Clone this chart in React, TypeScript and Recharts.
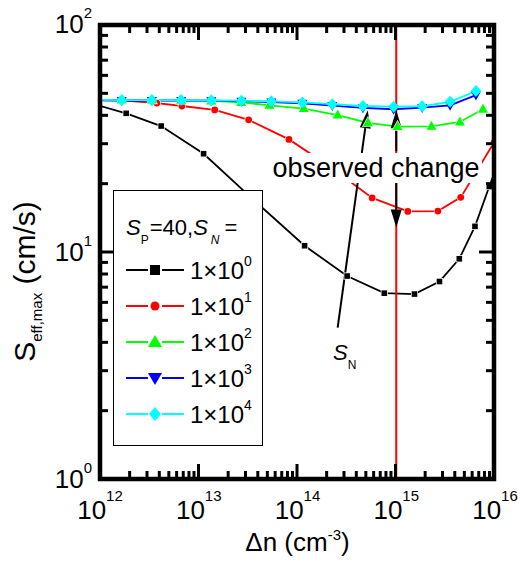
import React from "react";
import { LineChart, Line, XAxis, YAxis, ReferenceLine } from "recharts";

// S_eff,max vs injection level for several S_N (S_P = 40)
const xMajor = [1e12, 1e13, 1e14, 1e15, 1e16];
const yMajor = [1, 10, 100];
const minorSteps = [2, 3, 4, 5, 6, 7, 8, 9];

const xSn1 = [8.1e11, 1.84e12, 4.16e12, 1.12e13, 3.57e13, 1.18e14, 3.18e14, 7.57e14, 1.53e15, 2.74e15, 4.35e15, 6.27e15, 8.75e15, 1.2e16];
const ySn1 = [44.8, 40.5, 35.6, 26.9, 16.9, 10.6, 7.8, 6.56, 6.5, 7.38, 9.29, 12.9, 19.3, 28];

const xSn10 = [8.3e11, 1.66e12, 3.76e12, 6.75e12, 1.45e13, 3.2e13, 8.2e13, 2.16e14, 5.7e14, 1.31e15, 2.64e15, 4.5e15, 9.8e15];
const ySn10 = [46.3, 46.2, 44.9, 43.6, 41.9, 37.9, 31.1, 23.5, 17.2, 15.0, 15.05, 17.3, 30.2];

const xSn100 = [8.3e11, 1.66e12, 3.35e12, 6.64e12, 1.34e13, 2.7e13, 5.2e13, 1.16e14, 2.55e14, 5.17e14, 1.03e15, 2.27e15, 4.41e15, 7.55e15];
const ySn100 = [46.3, 46.3, 46.3, 46.2, 45.9, 45.2, 43.9, 42.5, 39.8, 36.8, 35.4, 35.5, 37.1, 42.2];

const xSnHigh = [8.3e11, 1.66e12, 3.35e12, 6.64e12, 1.34e13, 2.7e13, 5.44e13, 1.12e14, 2.25e14, 4.6e14, 9.4e14, 1.83e15, 3.51e15, 6.41e15];
const ySn1000 = [46.2, 46.1, 46.1, 46.1, 46.0, 45.8, 45.4, 44.8, 43.8, 42.8, 42.2, 42.9, 43.9, 48.7];
const ySn10000 = [46.4, 46.3, 46.3, 46.3, 46.2, 46.0, 45.7, 45.2, 44.4, 43.6, 43.3, 43.5, 45.5, 50.7];

const legendExps = ["0", "1", "2", "3", "4"];

const zip = (xs: number[], ys: number[]) => xs.map((x, i) => ({ x, y: ys[i] }));

const xMinor = xMajor.slice(0, -1).flatMap((m) => minorSteps.map((k) => k * m));
const yMinor = yMajor.slice(0, -1).flatMap((m) => minorSteps.map((k) => k * m));
const xTicks = [...xMajor, ...xMinor];
const yTicks = [...yMajor, ...yMinor];

const FONT = "'Liberation Sans', Arial, sans-serif";
const X_DOMAIN: [number, number] = [1e12, 1e16];
const Y_DOMAIN: [number, number] = [1, 100];

// plot box (chart margins + 1px axis sizes)
const BOX = { left: 100, top: 25, right: 494, bottom: 479 };

const isMajor = (v: number) => Math.abs(Math.log10(v) - Math.round(Math.log10(v))) < 1e-6;
const expOf = (v: number) => String(Math.round(Math.log10(v)));

const MAJ = 15;
const MIN = 8;
const TW = 3;

const BottomLabel = ({ x, y, payload }: any) =>
  isMajor(payload.value) ? (
    <text x={x} y={y + 40} textAnchor="middle" fontSize={26} fontFamily={FONT} fill="#000">
      10
      <tspan dy={-18} fontSize={15}>{expOf(payload.value)}</tspan>
    </text>
  ) : (
    <g />
  );

const LeftLabel = ({ x, y, payload }: any) =>
  isMajor(payload.value) ? (
    <text x={x - 8} y={y + 9} textAnchor="end" fontSize={26} fontFamily={FONT} fill="#000">
      10
      <tspan dy={-15} fontSize={15}>{expOf(payload.value)}</tspan>
    </text>
  ) : (
    <g />
  );

const inRange = (p: any) => p.payload && p.payload.x >= X_DOMAIN[0] && p.payload.x <= X_DOMAIN[1];

const squareDot = (p: any) =>
  inRange(p) ? (
    <rect key={p.index} x={p.cx - 2.8} y={p.cy - 2.8} width={5.6} height={5.6} fill="#000" stroke="#fff" strokeWidth={1.5} paintOrder="stroke" />
  ) : (
    <g key={p.index} />
  );
const circleDot = (p: any) =>
  inRange(p) ? <circle key={p.index} cx={p.cx} cy={p.cy} r={3.4} fill="#ff0000" stroke="#fff" strokeWidth={1.5} paintOrder="stroke" /> : <g key={p.index} />;
const triUpDot = (p: any) =>
  inRange(p) ? (
    <polygon key={p.index} points={`${p.cx},${p.cy - 5.5} ${p.cx - 5},${p.cy + 3.5} ${p.cx + 5},${p.cy + 3.5}`} fill="#00ff00" stroke="#fff" strokeWidth={1.2} paintOrder="stroke" />
  ) : (
    <g key={p.index} />
  );
const triDownDot = (p: any) =>
  inRange(p) ? <polygon key={p.index} points={`${p.cx},${p.cy + 5.5} ${p.cx - 5},${p.cy - 3.5} ${p.cx + 5},${p.cy - 3.5}`} fill="#0000ff" /> : <g key={p.index} />;
const diamondDot = (p: any) =>
  inRange(p) ? <polygon key={p.index} points={`${p.cx},${p.cy - 6} ${p.cx + 5.5},${p.cy} ${p.cx},${p.cy + 6} ${p.cx - 5.5},${p.cy}`} fill="#00ffff" /> : <g key={p.index} />;

const Arrow = (p: any) => {
  const { x1, y1, x2, y2 } = p;
  const dx = x2 - x1;
  const dy = y2 - y1;
  const len = Math.hypot(dx, dy) || 1;
  const ux = dx / len;
  const uy = dy / len;
  const hl = 18;
  const hw = 5.5;
  const bx = x2 - ux * hl;
  const by = y2 - uy * hl;
  return (
    <g>
      <line x1={x1} y1={y1} x2={bx} y2={by} stroke="#000" strokeWidth={2} />
      <polygon points={`${x2},${y2} ${bx - uy * hw},${by + ux * hw} ${bx + uy * hw},${by - ux * hw}`} fill="#000" />
    </g>
  );
};

const XTitle = ({ viewBox }: any) => (
  <text x={viewBox.x + viewBox.width / 2} y={viewBox.y + 72} textAnchor="middle" fontSize={26} fontFamily={FONT} fill="#000">
    Δn (cm
    <tspan dy={-11} fontSize={15}>-3</tspan>
    <tspan dy={11}>)</tspan>
  </text>
);

const YTitle = ({ viewBox }: any) => {
  const cx = viewBox.x - 64;
  const cy = viewBox.y + viewBox.height / 2 + 30;
  return (
    <text x={cx} y={cy} transform={`rotate(-90 ${cx} ${cy})`} textAnchor="middle" fontSize={30} fontFamily={FONT} fill="#000">
      S
      <tspan dy={7} fontSize={15}>eff,max</tspan>
      <tspan dy={-7}> (cm/s)</tspan>
    </text>
  );
};

// tick comb on all four sides of the frame
const logPos = (v: number, d: [number, number], a: number, b: number) =>
  a + ((Math.log10(v) - Math.log10(d[0])) / (Math.log10(d[1]) - Math.log10(d[0]))) * (b - a);

const FrameTicks = () => (
  <svg width={520} height={585} style={{ position: "absolute", left: 0, top: 0, pointerEvents: "none" }}>
    {xTicks.map((v) => {
      const x = logPos(v, X_DOMAIN, BOX.left, BOX.right);
      const l = isMajor(v) ? MAJ : MIN;
      return (
        <g key={`x${v}`}>
          <line x1={x} x2={x} y1={BOX.bottom} y2={BOX.bottom - l} stroke="#000" strokeWidth={TW} />
          <line x1={x} x2={x} y1={BOX.top} y2={BOX.top + l} stroke="#000" strokeWidth={TW} />
        </g>
      );
    })}
    {yTicks.map((v) => {
      const y = logPos(v, Y_DOMAIN, BOX.bottom, BOX.top);
      const l = isMajor(v) ? MAJ : MIN;
      return (
        <g key={`y${v}`}>
          <line x1={BOX.left} x2={BOX.left + l} y1={y} y2={y} stroke="#000" strokeWidth={TW} />
          <line x1={BOX.right} x2={BOX.right - l} y1={y} y2={y} stroke="#000" strokeWidth={TW} />
        </g>
      );
    })}
    <rect x={BOX.left} y={BOX.top} width={BOX.right - BOX.left} height={BOX.bottom - BOX.top} fill="none" stroke="#000" strokeWidth={4.5} />
  </svg>
);

const legendRows = [
  { color: "#000", marker: "square" },
  { color: "#ff0000", marker: "circle" },
  { color: "#00ff00", marker: "up" },
  { color: "#0000ff", marker: "down" },
  { color: "#00ffff", marker: "diamond" },
];

const LegendMarker = ({ kind, color, cx, cy }: any) => {
  if (kind === "square") return <rect x={cx - 5} y={cy - 5} width={10} height={10} fill={color} />;
  if (kind === "circle") return <circle cx={cx} cy={cy} r={4.5} fill={color} />;
  if (kind === "up") return <polygon points={`${cx},${cy - 7} ${cx - 7},${cy + 5} ${cx + 7},${cy + 5}`} fill={color} />;
  if (kind === "down") return <polygon points={`${cx},${cy + 7} ${cx - 7},${cy - 5} ${cx + 7},${cy - 5}`} fill={color} />;
  return <polygon points={`${cx},${cy - 7} ${cx + 6},${cy} ${cx},${cy + 7} ${cx - 6},${cy}`} fill={color} />;
};

const LegendBox = () => (
  <div style={{ position: "absolute", left: 113, top: 190, width: 148, height: 254, border: "1.5px solid #000", background: "#fff" }}>
    <svg width={148} height={254} style={{ display: "block" }}>
      <text x={12} y={44} fontSize={22} fontFamily={FONT} fill="#000">
        <tspan fontStyle="italic">S</tspan>
        <tspan dy={9} fontSize={12}>P</tspan>
        <tspan dy={-9} dx={1}>=40,</tspan>
        <tspan fontStyle="italic">S</tspan>
        <tspan dy={9} dx={3} fontSize={12} fontStyle="italic">N</tspan>
        <tspan dy={-9} dx={5}>=</tspan>
      </text>
      {legendRows.map((r, i) => {
        const cy = 79 + i * 36;
        return (
          <g key={i}>
            <line x1={12} x2={34} y1={cy} y2={cy} stroke={r.color} strokeWidth={2} />
            <line x1={48} x2={70} y1={cy} y2={cy} stroke={r.color} strokeWidth={2} />
            <LegendMarker kind={r.marker} color={r.color} cx={41} cy={cy} />
            <text x={76} y={cy + 9} fontSize={24} fontFamily={FONT} fill="#000">
              1×10
              <tspan dy={-13} fontSize={14}>{legendExps[i]}</tspan>
            </text>
          </g>
        );
      })}
    </svg>
  </div>
);

const ref = { xAxisId: "b", yAxisId: "l", ifOverflow: "visible" as const };

export default function App() {
  return (
    <div style={{ position: "absolute", left: 0, top: 0, width: 520, height: 585, background: "#fff", fontFamily: FONT }}>
      <LineChart width={520} height={585} margin={{ top: 24, right: 25, bottom: 105, left: 99 }}>
        <XAxis
          xAxisId="b"
          dataKey="x"
          type="number"
          scale="log"
          domain={X_DOMAIN}
          allowDataOverflow
          ticks={xTicks}
          interval={0}
          tick={BottomLabel}
          tickLine={false}
          axisLine={false}
          tickSize={0}
          tickMargin={0}
          height={1}
          label={{ content: (p: any) => <XTitle {...p} /> }}
        />
        <YAxis
          yAxisId="l"
          type="number"
          scale="log"
          domain={Y_DOMAIN}
          allowDataOverflow
          ticks={yTicks}
          interval={0}
          tick={LeftLabel}
          tickLine={false}
          axisLine={false}
          tickSize={0}
          tickMargin={0}
          width={1}
          label={{ content: (p: any) => <YTitle {...p} /> }}
        />
        <Line xAxisId="b" yAxisId="l" data={zip(xSn1, ySn1)} dataKey="y" stroke="#000" strokeWidth={1.8} dot={squareDot} isAnimationActive={false} />
        <Line xAxisId="b" yAxisId="l" data={zip(xSn10, ySn10)} dataKey="y" stroke="#ff0000" strokeWidth={1.8} dot={circleDot} isAnimationActive={false} />
        <Line xAxisId="b" yAxisId="l" data={zip(xSn100, ySn100)} dataKey="y" stroke="#00ff00" strokeWidth={1.8} dot={triUpDot} isAnimationActive={false} />
        <Line xAxisId="b" yAxisId="l" data={zip(xSnHigh, ySn1000)} dataKey="y" stroke="#0000ff" strokeWidth={1.8} dot={triDownDot} isAnimationActive={false} />
        <Line xAxisId="b" yAxisId="l" data={zip(xSnHigh, ySn10000)} dataKey="y" stroke="#00ffff" strokeWidth={1.8} dot={diamondDot} isAnimationActive={false} />
        <ReferenceLine {...ref} x={1e15} stroke="#ff0000" strokeWidth={2} />
        <ReferenceLine {...ref} segment={[{ x: 2.55e14, y: 4.63 }, { x: 5.14e14, y: 41.8 }]} shape={Arrow} />
        <ReferenceLine {...ref} segment={[{ x: 1e15, y: 27.6 }, { x: 1e15, y: 41.8 }]} shape={Arrow} />
        <ReferenceLine {...ref} segment={[{ x: 1e15, y: 20.1 }, { x: 1e15, y: 12.76 }]} shape={Arrow} />
      </LineChart>
      <FrameTicks />
      <LegendBox />
      <div
        style={{
          position: "absolute",
          left: 270,
          top: 153,
          width: 212,
          height: 30,
          background: "#fff",
          fontSize: 27,
          lineHeight: "30px",
          textAlign: "center",
          color: "#000",
        }}
      >
        observed change
      </div>
      <div style={{ position: "absolute", left: 333, top: 340, fontSize: 22, color: "#000" }}>
        <span style={{ fontStyle: "italic" }}>S</span>
        <span style={{ fontSize: 12, position: "relative", top: 9 }}>N</span>
      </div>
    </div>
  );
}
